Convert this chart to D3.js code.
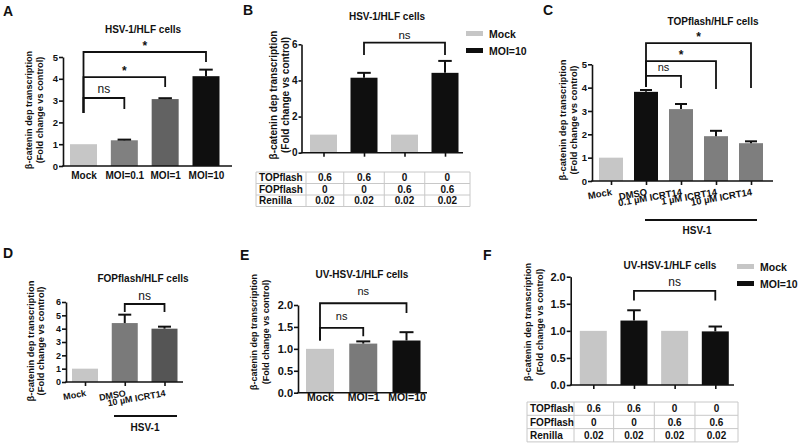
<!DOCTYPE html>
<html>
<head>
<meta charset="utf-8">
<script src="https://cdn.jsdelivr.net/npm/d3@7"></script>
<style>
  body { margin: 0; background: #fff; }
  text { font-family: "Liberation Sans", Arial, sans-serif; fill: #111; }
</style>
</head>
<body>
<div id="canvas"></div>
<script>
// ---- data ----
const catsA = ["Mock", "MOI=0.1", "MOI=1", "MOI=10"];
const valsA = [1.0, 1.18, 3.07, 4.12];
const errA = [0, 0.03, 0.04, 0.3];
const ticksA = [0, 1, 2, 3, 4, 5];

const catsB = ["TOP Mock", "TOP MOI=10", "FOP Mock", "FOP MOI=10"];
const valsB = [1.0, 4.15, 1.0, 4.42];
const errB = [0, 0.27, 0, 0.66];
const ticksB = [0, 2, 4, 6];

const catsC = ["Mock", "DMSO", "0.1 µM ICRT14", "1 µM ICRT14", "10 µM ICRT14"];
const valsC = [1.0, 3.82, 3.08, 1.92, 1.62];
const errC = [0, 0.08, 0.22, 0.23, 0.08];
const ticksC = [0, 1, 2, 3, 4, 5];

const catsD = ["Mock", "DMSO", "10 µM ICRT14"];
const valsD = [1.0, 4.42, 4.0];
const errD = [0, 0.63, 0.15];
const ticksD = [0, 1, 2, 3, 4, 5, 6];

const catsE = ["Mock", "MOI=1", "MOI=10"];
const valsE = [1.0, 1.12, 1.19];
const errE = [0, 0.05, 0.19];
const ticksE = [0, 0.5, 1, 1.5, 2];

const catsF = ["TOP Mock", "TOP MOI=10", "FOP Mock", "FOP MOI=10"];
const valsF = [1.0, 1.19, 1.0, 0.99];
const errF = [0, 0.19, 0, 0.09];
const ticksF = [0, 0.5, 1, 1.5, 2];

const legendLabels = ["Mock", "MOI=10"];
const tableRowNames = ["TOPflash", "FOPflash", "Renilla"];
const tableTOP = ["0.6", "0.6", "0", "0"];
const tableFOP = ["0", "0", "0.6", "0.6"];
const tableRenilla = ["0.02", "0.02", "0.02", "0.02"];

// significance brackets: [from index, to index, label, level, left drop, right drop] in data units
const sigA = [[0, 1, "ns", 3.12, 2.43, 2.61], [0, 2, "*", 4.08, 2.43, 3.62], [0, 3, "*", 5.23, 2.43, 4.77]];
const sigB = [[1, 3, "ns", 6.09, 5.41, 5.41]];
const sigC = [[1, 2, "ns", 4.5, 4.03, 3.98], [1, 3, "*", 5.14, 4.03, 3.94], [1, 4, "*", 5.91, 4.03, 3.98]];
const sigD = [[1, 2, "ns", 5.85, 5.25, 5.25]];
const sigE = [[0, 1, "ns", 1.48, 1.19, 1.29], [0, 2, "ns", 2.04, 1.19, 1.82]];
const sigF = [[1, 3, "ns", 1.74, 1.56, 1.56]];

const LIGHT = "#c6c6c6", BLACK = "#0f0f0f";

const width = 800, height = 448;
const svg = d3.select("#canvas").append("svg")
  .attr("width", width).attr("height", height)
  .style("background", "#fff");

function txt(g, x, y, s, size, opts = {}) {
  return g.append("text").attr("x", x).attr("y", y)
    .attr("text-anchor", opts.anchor || "middle")
    .attr("font-size", size)
    .attr("font-weight", opts.weight || "bold")
    .text(s);
}

function drawPanel(p) {
  const g = svg.append("g");
  const y = d3.scaleLinear().domain(p.yDomain).range(p.yRange);
  const x = d3.scalePoint().domain(p.cats).range(p.xRange);

  // letter + title
  txt(g, p.letter[1], p.letter[2], p.letter[0], 14, { anchor: "start" });
  txt(g, p.title[1], p.title[2], p.title[0], p.title[3]);

  // y label (two lines)
  const yl = g.append("g").attr("transform", `translate(${p.ylab[0]},${p.ylab[2]}) rotate(-90)`);
  yl.append("text").attr("text-anchor", "middle").attr("font-size", p.ylab[3]).attr("font-weight", "bold")
    .attr("y", 0).text("β-catenin dep transcription");
  yl.append("text").attr("text-anchor", "middle").attr("font-size", p.ylab[3]).attr("font-weight", "bold")
    .attr("y", p.ylab[1] - p.ylab[0]).text("(Fold change vs control)");

  // bars
  g.selectAll("rect.bar").data(p.cats).join("rect")
    .attr("class", "bar")
    .attr("x", c => x(c) - p.bw / 2)
    .attr("width", p.bw)
    .attr("y", (c, i) => y(p.vals[i]))
    .attr("height", (c, i) => y(0) - y(p.vals[i]))
    .attr("fill", (c, i) => p.colors[i]);

  // error bars (upper only)
  const eb = p.cats.map((c, i) => ({ c, v: p.vals[i], e: p.errs[i] })).filter(d => d.e > 0);
  g.selectAll("line.err").data(eb).join("line")
    .attr("x1", d => x(d.c)).attr("x2", d => x(d.c))
    .attr("y1", d => y(d.v)).attr("y2", d => y(d.v + d.e))
    .attr("stroke", "#111").attr("stroke-width", 2);
  g.selectAll("line.cap").data(eb).join("line")
    .attr("x1", d => x(d.c) - p.bw * 0.25).attr("x2", d => x(d.c) + p.bw * 0.25)
    .attr("y1", d => y(d.v + d.e)).attr("y2", d => y(d.v + d.e))
    .attr("stroke", "#111").attr("stroke-width", 2);

  // y axis
  const ya = g.append("g").attr("transform", `translate(${p.axX},0)`)
    .call(d3.axisLeft(y).tickValues(p.ticks).tickSize(p.yTick || 4).tickSizeOuter(0).tickPadding(1)
      .tickFormat(p.fmt || d3.format("d")));
  ya.selectAll("path,line").attr("stroke", "#111").attr("stroke-width", 1.6);
  ya.selectAll("text").attr("font-size", p.tickFont).attr("font-weight", "bold").attr("fill", "#111")
    .attr("font-family", "'Liberation Sans', Arial, sans-serif");

  // x axis
  g.append("line").attr("x1", p.axX - 0.8).attr("x2", p.axEnd)
    .attr("y1", y(0)).attr("y2", y(0)).attr("stroke", "#111").attr("stroke-width", 1.6);
  const xa = g.append("g").attr("transform", `translate(0,${y(0)})`)
    .call(d3.axisBottom(x).tickSize(p.xTick).tickPadding(p.xPad || 3));
  xa.select(".domain").remove();
  xa.selectAll("line").attr("stroke", "#111").attr("stroke-width", 1.6);
  const xt = xa.selectAll("text").attr("font-size", p.xFont).attr("font-weight", "bold").attr("fill", "#111")
    .attr("font-family", "'Liberation Sans', Arial, sans-serif");
  if (p.xLabels === "none") xt.remove();
  if (p.xLabels === "rot") {
    xt.attr("text-anchor", "end").attr("y", 0).attr("dy", 0)
      .attr("transform", `translate(1,${p.xPad}) rotate(-10)`);
  }

  // significance brackets
  p.sig.forEach(([a, b, lab, lev, ld, rd]) => {
    const x1 = x(p.cats[a]), x2 = x(p.cats[b]);
    g.append("path")
      .attr("d", `M${x1},${y(ld)}V${y(lev)}H${x2}V${y(rd)}`)
      .attr("fill", "none").attr("stroke", "#111").attr("stroke-width", 1.8);
    const star = lab === "*";
    txt(g, (x1 + x2) / 2, y(lev) + (star ? p.sigDy + 3 : p.sigDy), lab, star ? 12 : p.sigFont,
      { weight: star ? "bold" : "normal" });
  });

  return { g, x, y };
}

function drawLegend(lx, ly, gap, colors) {
  const g = svg.append("g");
  legendLabels.forEach((l, i) => {
    g.append("rect").attr("x", lx).attr("y", ly + i * gap).attr("width", 17).attr("height", 5)
      .attr("fill", colors[i]);
    txt(g, lx + 23, ly + i * gap + 6.5, l, 10.5, { anchor: "start" });
  });
}

function drawTable(pan, cats, left, firstSep, right, top, rowH) {
  const g = svg.append("g");
  const x = pan.x;
  const cols = [left, firstSep];
  for (let i = 0; i < cats.length - 1; i++) cols.push((x(cats[i]) + x(cats[i + 1])) / 2);
  cols.push(right);
  const rows = [tableTOP, tableFOP, tableRenilla];
  const bottom = top + rowH * rows.length;
  cols.forEach(cx => g.append("line").attr("x1", cx).attr("x2", cx).attr("y1", top).attr("y2", bottom)
    .attr("stroke", "#c8c8c8").attr("stroke-width", 1));
  d3.range(rows.length + 1).forEach(r => g.append("line").attr("x1", left).attr("x2", right)
    .attr("y1", top + r * rowH).attr("y2", top + r * rowH).attr("stroke", "#c8c8c8").attr("stroke-width", 1));
  rows.forEach((row, r) => {
    const by = top + r * rowH + rowH / 2 + 3.6;
    txt(g, left + 3, by, tableRowNames[r], 10, { anchor: "start" });
    row.forEach((v, i) => txt(g, (cols[i + 1] + cols[i + 2]) / 2, by, v, 10));
  });
}

function hsvLine(x1, x2, ly, tx, ty) {
  const g = svg.append("g");
  g.append("line").attr("x1", x1).attr("x2", x2).attr("y1", ly).attr("y2", ly)
    .attr("stroke", "#111").attr("stroke-width", 2);
  txt(g, tx, ty, "HSV-1", 10);
}

// ---- panels ----
drawPanel({
  letter: ["A", 3, 16], title: ["HSV-1/HLF cells", 143, 32.5, 10],
  ylab: [32, 42.5, 110, 9.2],
  cats: catsA, vals: valsA, errs: errA, colors: [LIGHT, "#808080", "#626262", BLACK],
  yDomain: [0, 5], yRange: [166, 57], ticks: ticksA, tickFont: 9.5,
  axX: 63, axEnd: 232, xRange: [83.5, 206], bw: 27,
  xTick: 0, xPad: 6, xFont: 10, xLabels: "flat",
  sig: sigA, sigDy: -5, sigFont: 12
});

const panB = drawPanel({
  letter: ["B", 243, 15], title: ["HSV-1/HLF cells", 387, 20, 10],
  ylab: [277, 288.5, 95, 10],
  cats: catsB, vals: valsB, errs: errB, colors: [LIGHT, BLACK, LIGHT, BLACK],
  yDomain: [0, 6], yRange: [152.7, 44.3], ticks: ticksB, tickFont: 10, yTick: 3,
  axX: 301.5, axEnd: 463, xRange: [323.5, 445], bw: 27,
  xTick: 4, xFont: 10, xLabels: "none",
  sig: sigB, sigDy: -4, sigFont: 11.5
});
drawLegend(466, 31, 17, [LIGHT, BLACK]);
drawTable(panB, catsB, 256, 306, 470, 172, 11.5);

drawPanel({
  letter: ["C", 543, 15], title: ["TOPflash/HLF cells", 713, 25, 10],
  ylab: [566, 576.5, 120, 9.4],
  cats: catsC, vals: valsC, errs: errC, colors: [LIGHT, BLACK, "#7e7e7e", "#7e7e7e", "#7e7e7e"],
  yDomain: [0, 5], yRange: [181, 64.3], ticks: ticksC, tickFont: 9.5,
  axX: 592, axEnd: 773, xRange: [611, 751], bw: 24,
  xTick: 4, xPad: 14, xFont: 9.5, xLabels: "rot",
  sig: sigC, sigDy: -5, sigFont: 11
});
hsvLine(645, 757, 220, 697, 234);

drawPanel({
  letter: ["D", 3, 258], title: ["FOPflash/HLF cells", 143, 282, 10],
  ylab: [34, 44, 341, 9.4],
  cats: catsD, vals: valsD, errs: errD, colors: [LIGHT, "#7a7a7a", "#555555"],
  yDomain: [0, 6], yRange: [382, 302], ticks: ticksD, tickFont: 9,
  axX: 66, axEnd: 183, xRange: [85, 164.5], bw: 26,
  xTick: 4, xPad: 14, xFont: 9, xLabels: "rot",
  sig: sigD, sigDy: -4, sigFont: 12
});
hsvLine(114, 177, 416, 145, 431);

drawPanel({
  letter: ["E", 240, 260], title: ["UV-HSV-1/HLF cells", 362, 278, 10],
  ylab: [257, 269, 332, 9],
  cats: catsE, vals: valsE, errs: errE, colors: [LIGHT, "#7a7a7a", BLACK],
  yDomain: [0, 2], yRange: [392.7, 305], ticks: ticksE, tickFont: 11, fmt: d3.format(".1f"),
  axX: 298, axEnd: 427, xRange: [320, 406.5], bw: 28,
  xTick: 0, xPad: 1, xFont: 10.5, xLabels: "flat",
  sig: sigE, sigDy: -8, sigFont: 11
});

const panF = drawPanel({
  letter: ["F", 483, 260], title: ["UV-HSV-1/HLF cells", 670, 269, 10],
  ylab: [531, 543, 322, 9.2],
  cats: catsF, vals: valsF, errs: errF, colors: [LIGHT, BLACK, LIGHT, BLACK],
  yDomain: [0, 2], yRange: [385, 276.7], ticks: ticksF, tickFont: 11, fmt: d3.format(".1f"),
  axX: 570.7, axEnd: 734, xRange: [593.3, 715.3], bw: 27,
  xTick: 4, xFont: 10, xLabels: "none",
  sig: sigF, sigDy: -5, sigFont: 12
});
drawLegend(737, 264, 17, [LIGHT, BLACK]);
drawTable(panF, catsF, 527, 574, 738, 402, 13.3);
</script>
</body>
</html>
